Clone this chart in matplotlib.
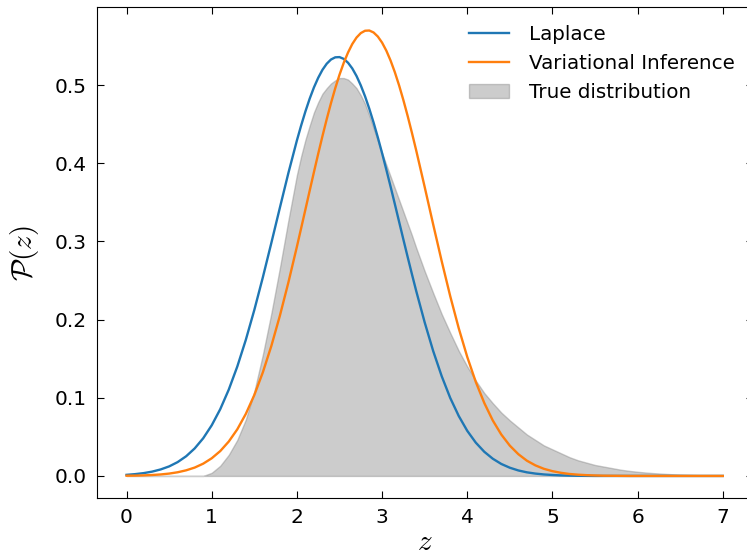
import numpy as np
import matplotlib
matplotlib.use("Agg")
import matplotlib.pyplot as plt

plt.rcParams['mathtext.fontset'] = 'cm'

# sample positions along z (finer around the peaks)
z = np.concatenate([np.linspace(0, 2.0, 21),
                    np.linspace(2.05, 3.35, 27),
                    np.linspace(3.4, 7.0, 37)])

laplace = [0.0014, 0.0023, 0.0036, 0.0055, 0.0083, 0.0122, 0.0177, 0.0252, 0.0352, 0.0482,
           0.0648, 0.0854, 0.1104, 0.1399, 0.1740, 0.2123, 0.2540, 0.2981, 0.3431, 0.3875,
           0.4292,
           0.4484, 0.4663, 0.4826, 0.4970, 0.5093, 0.5195, 0.5273, 0.5327, 0.5355, 0.5358,
           0.5335, 0.5286, 0.5213, 0.5116, 0.4996, 0.4856, 0.4697, 0.4521, 0.4331, 0.4129,
           0.3918, 0.3700, 0.3477, 0.3251, 0.3025, 0.2802, 0.2583,
           0.2369, 0.1965, 0.1598, 0.1276, 0.0998, 0.0767, 0.0577, 0.0426, 0.0309, 0.0220,
           0.0153, 0.0105, 0.0070, 0.0046, 0.0030, 0.0019, 0.0012, 0.0007, 0.0004, 0.0002,
           0.0001, 0, 0, 0, 0, 0, 0, 0, 0, 0,
           0, 0, 0, 0, 0, 0, 0]

vi = [0.0003, 0.0004, 0.0007, 0.0012, 0.0019, 0.0030, 0.0047, 0.0072, 0.0107, 0.0157,
      0.0226, 0.0318, 0.0440, 0.0596, 0.0793, 0.1035, 0.1325, 0.1663, 0.2049, 0.2475,
      0.2933,
      0.3170, 0.3409, 0.3649, 0.3887, 0.4121, 0.4347, 0.4564, 0.4769, 0.4959, 0.5132,
      0.5285, 0.5416, 0.5525, 0.5608, 0.5665, 0.5695, 0.5698, 0.5673, 0.5621, 0.5543,
      0.5440, 0.5313, 0.5164, 0.4995, 0.4808, 0.4606, 0.4391,
      0.4167, 0.3697, 0.3217, 0.2747, 0.2300, 0.1889, 0.1522, 0.1203, 0.0933, 0.0709,
      0.0529, 0.0387, 0.0278, 0.0195, 0.0135, 0.0091, 0.0061, 0.0040, 0.0025, 0.0016,
      0.0010, 0.0006, 0.0003, 0.0002, 0.0001, 0, 0, 0, 0, 0,
      0, 0, 0, 0, 0, 0, 0]

true_dist = [0, 0, 0, 0, 0, 0, 0, 0, 0, 0,
             0.004, 0.013, 0.027, 0.046, 0.072, 0.108, 0.155, 0.208, 0.266, 0.327,
             0.385,
             0.409, 0.430, 0.448, 0.465, 0.478, 0.489, 0.496, 0.502, 0.506, 0.509,
             0.509, 0.507, 0.502, 0.496, 0.487, 0.476, 0.461, 0.445, 0.429, 0.413,
             0.398, 0.383, 0.368, 0.353, 0.338, 0.323, 0.308,
             0.292, 0.262, 0.234, 0.207, 0.183, 0.160, 0.140, 0.122, 0.106, 0.093,
             0.081, 0.071, 0.062, 0.053, 0.046, 0.039, 0.034, 0.029, 0.024, 0.020,
             0.017, 0.014, 0.012, 0.010, 0.008, 0.0065, 0.0053, 0.0043, 0.0035, 0.0028,
             0.0022, 0.0017, 0.0013, 0.0010, 0.0008, 0.0006, 0.0005]

fig = plt.figure(figsize=(7.47, 5.57), dpi=100)
ax = fig.add_axes([0.1295, 0.1054, 0.878, 0.8815])

ax.plot(z, laplace, color='#1f77b4', lw=1.7, label='Laplace')
ax.plot(z, vi, color='#ff7f0e', lw=1.7, label='Variational Inference')
ax.fill_between(z, true_dist, color='gray', alpha=0.4, label='True distribution')

ax.set_xlim(-0.35, 7.35)
ax.set_ylim(-0.0286, 0.5995)
ax.set_xticks(range(8))
ax.set_yticks([0.0, 0.1, 0.2, 0.3, 0.4, 0.5])
ax.tick_params(direction='in', top=True, right=True, labelsize=14.5, length=5, pad=7)

ax.set_xlabel(r'$z$', fontsize=21, labelpad=1)
ax.set_ylabel(r'$\mathcal{P}(z)$', fontsize=21, labelpad=10)

ax.legend(loc='upper right', frameon=False, fontsize=14.3, labelspacing=0.5,
          handletextpad=1.0)

plt.savefig('out.png', dpi=100)
